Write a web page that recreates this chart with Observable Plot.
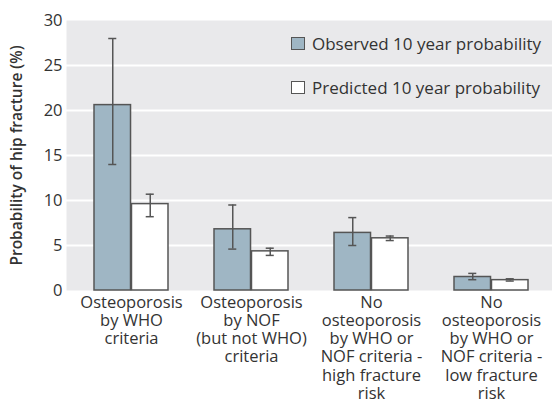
<!DOCTYPE html>
<html><head><meta charset="utf-8">
<script src="https://cdn.jsdelivr.net/npm/d3@7"></script>
<script src="https://cdn.jsdelivr.net/npm/@observablehq/plot@0.6"></script>
<style>
body{margin:0;background:#fff;}
#wrap{position:relative;width:552px;height:401px;font-family:"Open Sans",sans-serif;}
#legend{position:absolute;left:291px;top:33px;font-size:17px;color:#333;}
#legend div{display:flex;align-items:center;height:20px;margin-bottom:24px;white-space:nowrap;}
#legend span.sw{display:inline-block;width:12px;height:11px;border:1.5px solid #555;margin-right:7px;}
</style></head>
<body><div id="wrap"><div id="legend"></div></div>
<script>
const categories = [
  "Osteoporosis\nby WHO\ncriteria",
  "Osteoporosis\nby NOF\n(but not WHO)\ncriteria",
  "No\nosteoporosis\nby WHO or\nNOF criteria -\nhigh fracture\nrisk",
  "No\nosteoporosis\nby WHO or\nNOF criteria -\nlow fracture\nrisk"
];
const series = ["Observed 10 year probability", "Predicted 10 year probability"];
const observed = [20.6, 6.8, 6.4, 1.5];
const observedLow = [14.0, 4.6, 5.0, 1.2];
const observedHigh = [28.0, 9.5, 8.1, 1.9];
const predicted = [9.6, 4.35, 5.8, 1.15];
const predictedLow = [8.2, 3.9, 5.55, 1.05];
const predictedHigh = [10.7, 4.7, 6.05, 1.3];
const yTicks = [0, 5, 10, 15, 20, 25, 30];
const yLabel = "Probability of hip fracture (%)";
const colors = ["#9fb6c4", "#ffffff"];

const W = 552, H = 401, ML = 66, MR = 0;
const xOpts = {type: "band", domain: categories, paddingInner: 0.38, paddingOuter: 0.2, align: 0.55};
const bw = Plot.scale({x: {...xOpts, range: [ML, W - MR]}}).bandwidth;
const cap = 4.5;

const obsData = categories.map((c, i) => ({cat: c, v: observed[i], lo: observedLow[i], hi: observedHigh[i]}));
const preData = categories.map((c, i) => ({cat: c, v: predicted[i], lo: predictedLow[i], hi: predictedHigh[i]}));

function errorMarks(d, side) {
  const inL = side < 0 ? bw / 4 - cap : 3 * bw / 4 - cap;
  const inR = side < 0 ? 3 * bw / 4 - cap : bw / 4 - cap;
  const st = {stroke: "#555", strokeWidth: 1.5};
  return [
    Plot.ruleX(d, {x: "cat", y1: "lo", y2: "hi", dx: side * bw / 4, ...st}),
    Plot.tickY(d, {x: "cat", y: "lo", insetLeft: inL, insetRight: inR, ...st}),
    Plot.tickY(d, {x: "cat", y: "hi", insetLeft: inL, insetRight: inR, ...st})
  ];
}

const plot = Plot.plot({
  width: W, height: H,
  marginLeft: ML, marginRight: MR, marginTop: 20, marginBottom: 111,
  style: {fontFamily: "'Open Sans', sans-serif", fontSize: "16.5px", color: "#333", background: "transparent"},
  x: {...xOpts, label: null},
  y: {domain: [0, 30], ticks: yTicks, label: null},
  marks: [
    Plot.frame({fill: "#e9e9eb", stroke: null}),
    Plot.gridY(yTicks.slice(1, -1), {stroke: "white", strokeOpacity: 1, strokeWidth: 2}),
    Plot.axisY({ticks: yTicks, tickSize: 0, tickPadding: 4, label: null, fontSize: 16.5}),
    Plot.text([yLabel], {frameAnchor: "left", textAnchor: "middle", rotate: -90, dx: -49, fontSize: 15.5, fontWeight: 600, fill: "#333"}),
    Plot.axisX({tickSize: 0, tickPadding: 4, lineHeight: 1.11, fontSize: 16.5, label: null}),
    Plot.barY(obsData, {x: "cat", y: "v", fill: colors[0], stroke: "#555", strokeWidth: 1.5, insetRight: bw / 2}),
    Plot.barY(preData, {x: "cat", y: "v", fill: colors[1], stroke: "#555", strokeWidth: 1.5, insetLeft: bw / 2}),
    ...errorMarks(obsData, -1),
    ...errorMarks(preData, 1)
  ]
});
const wrap = document.getElementById("wrap");
wrap.insertBefore(plot, wrap.firstChild);
const legend = document.getElementById("legend");
series.forEach((s, i) => {
  const d = document.createElement("div");
  const sw = document.createElement("span");
  sw.className = "sw"; sw.style.background = colors[i];
  d.appendChild(sw);
  d.appendChild(document.createTextNode(s));
  legend.appendChild(d);
});
</script></body></html>
